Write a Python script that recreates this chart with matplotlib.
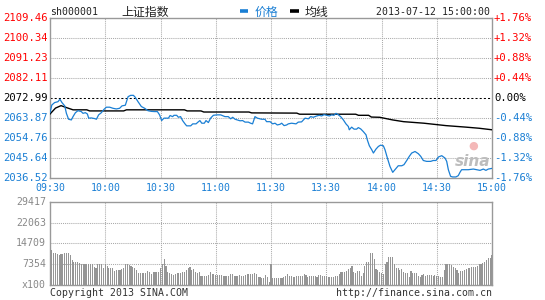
import matplotlib
matplotlib.use("Agg")
import matplotlib.pyplot as plt
import matplotlib.transforms as mtransforms
import numpy as np

plt.rcParams['font.family'] = ['DejaVu Sans Mono', 'Noto Sans CJK SC']

# ---------------- data ----------------
prev_close = 2072.99
price_ticks = [2036.52, 2045.64, 2054.76, 2063.87, 2072.99, 2082.11, 2091.23, 2100.34, 2109.46]
price_tick_labels = ['2036.52', '2045.64', '2054.76', '2063.87', '2072.99', '2082.11', '2091.23', '2100.34', '2109.46']
pct_labels = ['-1.76%', '-1.32%', '-0.88%', '-0.44%', '0.00%', '+0.44%', '+0.88%', '+1.32%', '+1.76%']
time_ticks = [0, 30, 60, 90, 120, 150, 180, 210, 240]
time_labels = ['09:30', '10:00', '10:30', '11:00', '11:30', '13:30', '14:00', '14:30', '15:00']

price_min = [0, 1, 2.5, 4.3, 5.4, 6.5, 8, 8.9, 10.1, 11.6, 12.5, 13.8, 15.2, 17, 17.9, 19.2, 20.3, 21,
             22.4, 24.3, 25.2, 26.4, 27.9, 29.3, 30.6, 32.4, 34.2, 36, 37.8, 39.1, 40.9, 42.4, 43.8,
             45.3, 46.3, 47.8, 49.6, 51.4, 53.2, 55, 56.8, 58.3, 59.5, 60.6, 61.9, 64.3, 65.2, 66.6,
             67.3, 68.8, 69.7, 70.9, 72, 73.3, 74.2, 76.4, 77.5, 79.3, 80.5, 81.4, 82.4, 83.8, 84.7,
             86, 87.2, 88.7, 90.5, 92.7, 95, 96.8, 98.1, 99.2, 100.5, 101.7, 103.2, 104.6, 105.9,
             107.7, 108.9, 110, 111.3, 112.6, 114.9, 116.7, 117.6, 119.5, 120.9, 122.2, 123.4, 124.9,
             125.8, 127.1, 128.5, 129.4, 131.2, 133.6, 134.8, 136.6, 138.5, 140.3, 141.5, 143,
             144.8, 146.2, 147.5, 148.8, 150.2, 151.7, 152.9, 154.2, 155.3, 156.6, 157.8, 159.3,
             160.7, 162, 162.5, 163.8, 165.1, 166.5, 167.4, 168.7, 170.1, 171.6, 172.3, 173.4,
             174.7, 175.6, 177, 178.3, 179.5, 181, 181.9, 183.2, 184.6, 186.1, 187.3, 189.1, 191,
             192.2, 193.7, 195.1, 196.4, 198.2, 200, 201.3, 202.7, 204.5, 206.7, 208.1, 209.6,
             210.9, 212.7, 214.5, 215.4, 216.3, 217.5, 218.6, 220.4, 221.7, 222.6, 223.5, 225.3,
             227.1, 229.9, 231.7, 233.5, 235.3, 236.7, 238, 240]
price_val = [2066.3, 2069.8, 2070.9, 2071.3, 2072.4, 2070.9, 2069.4, 2066.0, 2063.3, 2063.0, 2064.5,
             2066.3, 2067.2, 2066.8, 2066.0, 2066.3, 2065.7, 2063.8, 2063.9, 2063.6, 2063.3, 2065.3,
             2066.3, 2067.8, 2068.8, 2068.8, 2068.3, 2068.0, 2068.3, 2069.4, 2069.7, 2073.6, 2074.2,
             2074.2, 2073.3, 2071.3, 2069.1, 2068.3, 2067.2, 2066.9, 2066.8, 2066.8, 2065.3, 2062.7,
             2063.8, 2063.8, 2065.0, 2064.5, 2065.1, 2065.1, 2064.2, 2064.5, 2062.7, 2061.2, 2060.3,
             2060.3, 2061.2, 2061.2, 2062.1, 2062.7, 2061.5, 2061.5, 2062.7, 2061.8, 2063.8, 2065.1,
             2065.3, 2065.3, 2064.5, 2064.5, 2063.5, 2064.2, 2063.3, 2063.0, 2062.6, 2062.7, 2062.0,
             2062.0, 2061.5, 2061.2, 2064.5, 2063.8, 2063.3, 2063.3, 2062.2, 2062.2, 2061.2, 2061.5,
             2060.7, 2061.0, 2061.5, 2060.4, 2060.7, 2061.2, 2061.5, 2061.2, 2062.0, 2062.1, 2063.8,
             2063.5, 2064.5, 2064.2, 2064.8, 2065.1, 2064.8, 2065.4, 2065.1, 2064.8, 2065.3, 2065.1,
             2066.0, 2065.3, 2064.5, 2063.0, 2061.2, 2060.0, 2058.5, 2059.7, 2058.8, 2058.8, 2059.5,
             2058.9, 2057.7, 2056.2, 2053.9, 2051.2, 2049.4, 2047.9, 2049.7, 2050.9, 2051.5, 2051.2,
             2049.4, 2045.6, 2041.8, 2039.1, 2040.3, 2042.1, 2042.1, 2042.6, 2044.5, 2046.4, 2047.9,
             2048.6, 2047.6, 2046.4, 2044.5, 2044.1, 2044.1, 2044.5, 2044.5, 2046.1, 2046.7, 2045.6,
             2044.1, 2040.3, 2037.3, 2037.0, 2037.0, 2037.6, 2039.1, 2040.3, 2040.3, 2040.3, 2040.6,
             2040.3, 2040.0, 2040.6, 2040.0, 2040.6, 2040.9]

avg_min = [0, 3, 6, 9, 12.5, 20, 21.5, 40, 41.5, 73, 74.5, 82, 83.5, 108, 109.5, 134, 135.5, 166,
           167.5, 173, 174.5, 179, 186, 192, 203, 215, 226, 233, 240]
avg_val = [2065.7, 2068.4, 2069.5, 2068.6, 2067.6, 2067.6, 2067.1, 2067.1, 2067.6, 2067.6, 2067.1,
           2067.1, 2066.6, 2066.6, 2066.2, 2066.1, 2065.6, 2065.6, 2065.1, 2065.1, 2064.3, 2064.2,
           2063.0, 2062.2, 2061.5, 2060.4, 2059.7, 2059.2, 2058.5]

vol_ticks = [0, 7354, 14709, 22063, 29417]
vol_tick_labels = ['x100', '7354', '14709', '22063', '29417']
volume = [29417,
          12400, 11200, 11200, 11000, 10600, 11000, 10900, 11300, 11300, 11300,
          10600, 8900, 8300, 8300, 8000, 7700, 7300, 7300, 7300, 7300,
          7300, 7300, 7300, 6500, 6100, 7300, 7300, 7300, 6100, 7300,
          6800, 5900, 6100, 6100, 5000, 5300, 5400, 5200, 5700, 5900,
          7300, 7300, 7100, 6800, 6500, 6100, 5200, 4400, 4400, 4400,
          4400, 4400, 5000, 4500, 4000, 4700, 4700, 4700, 4700, 5900,
          7300, 9200, 6800, 4700, 4100, 3800, 3500, 4000, 4400, 4100,
          4100, 4500, 4500, 5300, 6100, 6400, 5300, 5700, 4500, 4100,
          4500, 3300, 3300, 3300, 3300, 3500, 4500, 4000, 4000, 3500,
          3500, 3500, 3500, 3200, 3200, 3300, 3300, 3800, 3900, 3300,
          3300, 3300, 3500, 3300, 3300, 3500, 3800, 4000, 4000, 4000,
          4300, 4000, 2800, 2800, 2600, 2600, 3500, 2800, 1200, 7300,
          2400, 2600, 2600, 2400, 2600, 2600, 2800, 3300, 3800, 3300,
          3100, 2950, 2950, 3300, 3300, 3100, 3300, 3800, 3500, 2950,
          3300, 3300, 3100, 3300, 2800, 3500, 3500, 3300, 3100, 3100,
          2950, 2950, 2950, 2950, 3300, 3300, 3800, 4500, 4700, 4700,
          5000, 5500, 6100, 6800, 4700, 4100, 5000, 5000, 3300, 4100,
          6800, 8300, 8300, 11200, 11200, 9200, 5700, 5200, 4700, 4100,
          3800, 7300, 8300, 9900, 9900, 9900, 7600, 6100, 5900, 5300,
          5700, 4500, 4200, 4200, 2950, 5000, 4100, 4100, 4100, 3300,
          2800, 3500, 3800, 3100, 3500, 3500, 3500, 3300, 3500, 3300,
          3300, 2950, 2950, 5300, 7300, 7600, 7300, 7100, 6500, 5900,
          5300, 4100, 5000, 5000, 5200, 5700, 5900, 6100, 6400, 6400,
          6400, 6800, 7300, 7300, 7700, 8300, 8800, 9400, 9700, 10600]

# ---------------- style ----------------
W, H = 545, 300
BLUE = '#1a7fd4'
RED = '#ff0000'
GRID = '#aaaaaa'
FRAME = '#999999'
VOLC = '#959595'

fig = plt.figure(figsize=(W / 100, H / 100), dpi=100)
fig.patch.set_facecolor('white')

def fx(px):
    return px / W

def fy(py):
    return 1 - py / H

L, R = 50, 492
ax = fig.add_axes([fx(L), fy(178), (R - L) / W, (178 - 18) / H])
axv = fig.add_axes([fx(L), fy(285), (R - L) / W, (285 - 202) / H])

for a in (ax, axv):
    a.set_xlim(0, 240)
    for s in a.spines.values():
        s.set_color(FRAME)
        s.set_linewidth(1.0)
    a.tick_params(length=0)
    a.set_xticks([])
    for t in time_ticks[1:-1]:
        a.axvline(t, color=GRID, lw=0.75, ls=(0, (1, 1)), zorder=0)

# price panel
ax.set_ylim(price_ticks[0], price_ticks[-1])
ax.set_yticks([])
for v in price_ticks[1:-1]:
    if v == prev_close:
        ax.axhline(v, color='black', lw=0.75, ls=(0, (2, 2)), zorder=1)
    else:
        ax.axhline(v, color=GRID, lw=0.75, ls=(0, (1, 1)), zorder=0)

trans_l = mtransforms.blended_transform_factory(fig.transFigure, ax.transData)
for v, lab, pl in zip(price_ticks, price_tick_labels, pct_labels):
    c = RED if v > prev_close else ('black' if v == prev_close else BLUE)
    ax.text(fx(48), v, lab, transform=trans_l, ha='right', va='center', color=c, fontsize=7.6)
    ax.text(fx(494), v, pl, transform=trans_l, ha='left', va='center', color=c, fontsize=7.6)

ax.plot(avg_min, avg_val, color='black', lw=1.0, zorder=3)
ax.plot(price_min, price_val, color=BLUE, lw=0.9, zorder=4)

# time labels
trans_t = mtransforms.blended_transform_factory(ax.transData, fig.transFigure)
for t, lab in zip(time_ticks, time_labels):
    ax.text(t, fy(188), lab, transform=trans_t, ha='center', va='center', color=BLUE, fontsize=7.1)

# sina watermark
ax.text(0.955, 0.1, 'sina', transform=ax.transAxes, ha='center', va='center', color='#bdbdbd',
        fontsize=11, fontweight='bold', style='italic', family='DejaVu Sans', zorder=2)
ax.text(0.957, 0.2, '\u25cf', transform=ax.transAxes, ha='center', va='center', color='#f4b8b8',
        fontsize=8, family='DejaVu Sans', zorder=2)

# volume panel
axv.set_ylim(0, vol_ticks[-1])
axv.set_yticks([])
for v in vol_ticks[1:-1]:
    axv.axhline(v, color=GRID, lw=0.75, ls=(0, (1, 1)), zorder=0)
axv.bar(np.arange(len(volume)), volume, width=0.6, color=VOLC, linewidth=0, zorder=2,
        antialiased=False)
trans_v = mtransforms.blended_transform_factory(fig.transFigure, axv.transData)
for v, lab in zip(vol_ticks, vol_tick_labels):
    axv.text(fx(46), v, lab, transform=trans_v, ha='right', va='center', color='#888888', fontsize=7.1)

# header
fig.text(fx(50), fy(12), 'sh000001', ha='left', va='center', fontsize=7.1, color='#222222')
fig.text(fx(121), fy(12), '上证指数', ha='left', va='center', fontsize=8.6, color='#222222',
         family=['Noto Sans CJK SC', 'DejaVu Sans'])
fig.add_artist(plt.Line2D([fx(240), fx(248)], [fy(11), fy(11)], color=BLUE, lw=2.6, solid_capstyle='butt'))
fig.text(fx(255), fy(12), '价格', ha='left', va='center', fontsize=8.6, color=BLUE,
         family=['Noto Sans CJK SC', 'DejaVu Sans'])
fig.add_artist(plt.Line2D([fx(290), fx(299)], [fy(11), fy(11)], color='black', lw=2.6, solid_capstyle='butt'))
fig.text(fx(305), fy(12), '均线', ha='left', va='center', fontsize=8.6, color='#222222',
         family=['Noto Sans CJK SC', 'DejaVu Sans'])
fig.text(fx(490), fy(12), '2013-07-12 15:00:00', ha='right', va='center', fontsize=7.1, color='#222222')

# footer
fig.text(fx(50), fy(293), 'Copyright 2013 SINA.COM', ha='left', va='center', fontsize=7.1, color='#333333')
fig.text(fx(492), fy(293), 'http://finance.sina.com.cn', ha='right', va='center', fontsize=7.1, color='#333333')

fig.savefig('out.png', dpi=100, facecolor='white')
